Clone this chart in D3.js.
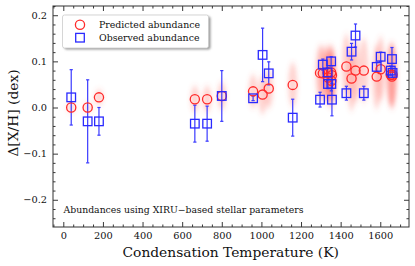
<!DOCTYPE html>
<html>
<head>
<meta charset="utf-8">
<script src="https://cdn.jsdelivr.net/npm/d3@7"></script>
<style>
  body { margin: 0; background: #fff; }
  svg { display: block; }
  text { font-family: "DejaVu Serif", "Liberation Serif", serif; }
</style>
</head>
<body>
<div id="chart-container"></div>
<script>
let width = 415;
let height = 266;
let margin = ({top: 6, right: 6, bottom: 39, left: 53});

// condensation temperatures (K)
const tcond = [40, 123, 180, 664, 726, 800, 958, 1006, 1037, 1158, 1296, 1310, 1334, 1336, 1352, 1353, 1356, 1429, 1455, 1475, 1517, 1582, 1602, 1653, 1659, 1662];
// predicted abundance and spread of the prediction cloud
const predicted = [0.0, 0.0, 0.022, 0.018, 0.018, 0.025, 0.035, 0.028, 0.041, 0.049, 0.075, 0.074, 0.076, 0.065, 0.076, 0.058, 0.07, 0.089, 0.063, 0.08, 0.08, 0.067, 0.083, 0.071, 0.067, 0.071];
const predSpread = [0.009, 0.009, 0.016, 0.028, 0.028, 0.03, 0.036, 0.042, 0.042, 0.048, 0.06, 0.06, 0.06, 0.06, 0.06, 0.06, 0.06, 0.07, 0.07, 0.07, 0.07, 0.07, 0.07, 0.07, 0.07, 0.07];
// observed abundance and its error
const observed = [0.022, -0.03, -0.03, -0.035, -0.035, 0.025, 0.02, 0.114, 0.074, -0.022, 0.017, 0.093, 0.076, 0.051, 0.1, 0.051, 0.017, 0.031, 0.121, 0.156, 0.031, 0.088, 0.11, 0.08, 0.105, 0.075];
const obsErr = [0.06, 0.09, 0.03, 0.04, 0.038, 0.055, 0.005, 0.058, 0.025, 0.04, 0.016, 0.012, 0.01, 0.01, 0.01, 0.015, 0.035, 0.015, 0.018, 0.025, 0.015, 0.01, 0.01, 0.01, 0.025, 0.01];

const xMajor = [0, 200, 400, 600, 800, 1000, 1200, 1400, 1600];
const yMajor = [-0.2, -0.1, 0.0, 0.1, 0.2];

const chartData = tcond.map((t, i) => ({
    t, pred: predicted[i], spread: predSpread[i], obs: observed[i], err: obsErr[i]
}));

function drawChart() {
    const x = d3.scaleLinear()
        .domain([-52, 1745])
        .range([margin.left, width - margin.right]);

    const y = d3.scaleLinear()
        .domain([-0.259, 0.22])
        .range([height - margin.bottom, margin.top]);

    const xMinor = d3.range(-50, 1746, 50).filter(v => v % 200 !== 0);
    const yMinor = d3.range(-0.24, 0.221, 0.02).map(v => +v.toFixed(2))
        .filter(v => Math.abs(Math.round(v * 10) - v * 10) > 1e-6);

    const svg = d3.select("#chart-container")
        .append("svg")
        .attr("width", width)
        .attr("height", height);

    const defs = svg.append("defs");
    defs.append("filter")
        .attr("id", "blur")
        .attr("x", "-100%").attr("y", "-50%")
        .attr("width", "300%").attr("height", "200%")
        .append("feGaussianBlur")
        .attr("stdDeviation", "2 3");
    defs.append("filter")
        .attr("id", "shadow")
        .append("feGaussianBlur")
        .attr("stdDeviation", 0.8);

    svg.append("clipPath")
        .attr("id", "plot-clip")
        .append("rect")
        .attr("x", margin.left).attr("y", margin.top)
        .attr("width", width - margin.left - margin.right)
        .attr("height", height - margin.top - margin.bottom);

    const plot = svg.append("g").attr("clip-path", "url(#plot-clip)");

    // prediction clouds
    plot.append("g")
        .attr("class", "clouds")
        .attr("filter", "url(#blur)")
        .selectAll("ellipse")
        .data(chartData)
        .join("ellipse")
        .attr("cx", d => x(d.t))
        .attr("cy", d => y(d.pred))
        .attr("rx", 4.6)
        .attr("ry", d => y(0) - y(d.spread))
        .attr("fill", "#ff5a50")
        .attr("fill-opacity", 0.26);

    // error bars
    const eb = plot.append("g")
        .attr("class", "errorbars")
        .attr("stroke", "#3a3aff")
        .attr("stroke-width", 1.2);
    eb.selectAll("line.v")
        .data(chartData)
        .join("line")
        .attr("class", "v")
        .attr("x1", d => x(d.t)).attr("x2", d => x(d.t))
        .attr("y1", d => y(d.obs - d.err)).attr("y2", d => y(d.obs + d.err));
    ["lo", "hi"].forEach(k => {
        eb.selectAll("line." + k)
            .data(chartData)
            .join("line")
            .attr("class", k)
            .attr("x1", d => x(d.t) - 1.6).attr("x2", d => x(d.t) + 1.6)
            .attr("y1", d => y(k === "lo" ? d.obs - d.err : d.obs + d.err))
            .attr("y2", d => y(k === "lo" ? d.obs - d.err : d.obs + d.err));
    });

    // predicted circles
    plot.append("g")
        .attr("class", "pred")
        .selectAll("circle")
        .data(chartData)
        .join("circle")
        .attr("cx", d => x(d.t))
        .attr("cy", d => y(d.pred))
        .attr("r", 4.6)
        .attr("fill", "none")
        .attr("stroke", "#ff2a2a")
        .attr("stroke-width", 1.3);

    // observed squares
    plot.append("g")
        .attr("class", "obs")
        .selectAll("rect")
        .data(chartData)
        .join("rect")
        .attr("x", d => x(d.t) - 4.3)
        .attr("y", d => y(d.obs) - 4.3)
        .attr("width", 8.6)
        .attr("height", 8.6)
        .attr("fill", "none")
        .attr("stroke", "#2a2aff")
        .attr("stroke-width", 1.3);

    // axes, ticks pointing inward on all four sides
    const x0 = height - margin.bottom, y0 = margin.left;
    const addAxis = (axis, tr, vals, size, labels) => {
        const g = svg.append("g")
            .attr("transform", tr)
            .call(axis.tickValues(vals).tickSize(size).tickSizeOuter(0));
        g.select(".domain").remove();
        g.selectAll("line").attr("stroke", "#222").attr("stroke-width", 0.9);
        if (!labels) g.selectAll("text").remove();
        else g.selectAll("text").attr("font-size", 9.8).attr("fill", "#111")
            .attr("font-family", "DejaVu Serif, serif");
        return g;
    };

    addAxis(d3.axisBottom(x).tickPadding(5).tickFormat(d3.format("d")), `translate(0,${x0})`, xMajor, -5, true);
    addAxis(d3.axisBottom(x), `translate(0,${x0})`, xMinor, -2.5, false);
    addAxis(d3.axisTop(x), `translate(0,${margin.top})`, xMajor, -5, false);
    addAxis(d3.axisTop(x), `translate(0,${margin.top})`, xMinor, -2.5, false);

    addAxis(d3.axisLeft(y).tickPadding(6).tickFormat(d => d3.format(".1f")(d).replace("-", "\u2212")),
        `translate(${y0},0)`, yMajor, -5, true);
    addAxis(d3.axisLeft(y), `translate(${y0},0)`, yMinor, -2.5, false);
    addAxis(d3.axisRight(y), `translate(${width - margin.right},0)`, yMajor, -5, false);
    addAxis(d3.axisRight(y), `translate(${width - margin.right},0)`, yMinor, -2.5, false);

    // frame
    svg.append("rect")
        .attr("x", margin.left).attr("y", margin.top)
        .attr("width", width - margin.left - margin.right)
        .attr("height", height - margin.top - margin.bottom)
        .attr("fill", "none")
        .attr("stroke", "#333")
        .attr("stroke-width", 1);

    // legend
    const lg = svg.append("g").attr("class", "legend");
    lg.append("rect")
        .attr("x", 64.5).attr("y", 16.5).attr("width", 146).attr("height", 33)
        .attr("rx", 2)
        .attr("fill", "#999").attr("filter", "url(#shadow)");
    lg.append("rect")
        .attr("x", 62.5).attr("y", 15).attr("width", 146).attr("height", 33)
        .attr("rx", 2)
        .attr("fill", "#fff").attr("stroke", "#ccc").attr("stroke-width", 0.8);
    lg.append("circle")
        .attr("cx", 80).attr("cy", 24.7).attr("r", 4.6)
        .attr("fill", "none").attr("stroke", "#ff2a2a").attr("stroke-width", 1.3);
    lg.append("rect")
        .attr("x", 75.7).attr("y", 33.4).attr("width", 8.6).attr("height", 8.6)
        .attr("fill", "none").attr("stroke", "#2a2aff").attr("stroke-width", 1.3);
    lg.append("text").attr("x", 99).attr("y", 28)
        .attr("font-size", 9.4).attr("fill", "#111").text("Predicted abundance");
    lg.append("text").attr("x", 99).attr("y", 41)
        .attr("font-size", 9.4).attr("fill", "#111").text("Observed abundance");

    // annotation
    svg.append("text")
        .attr("x", 63.5).attr("y", 213)
        .attr("font-size", 9.3).attr("fill", "#111")
        .text("Abundances using XIRU\u2212based stellar parameters");

    // axis titles
    svg.append("text")
        .attr("x", x(845)).attr("y", 257)
        .attr("text-anchor", "middle")
        .attr("font-size", 13.8).attr("fill", "#111")
        .text("Condensation Temperature (K)");

    svg.append("text")
        .attr("transform", `translate(18,${y(-0.012)}) rotate(-90)`)
        .attr("text-anchor", "middle")
        .attr("font-size", 13.8).attr("fill", "#111")
        .text("\u0394[X/H] (dex)");
}

drawChart();
</script>
</body>
</html>
